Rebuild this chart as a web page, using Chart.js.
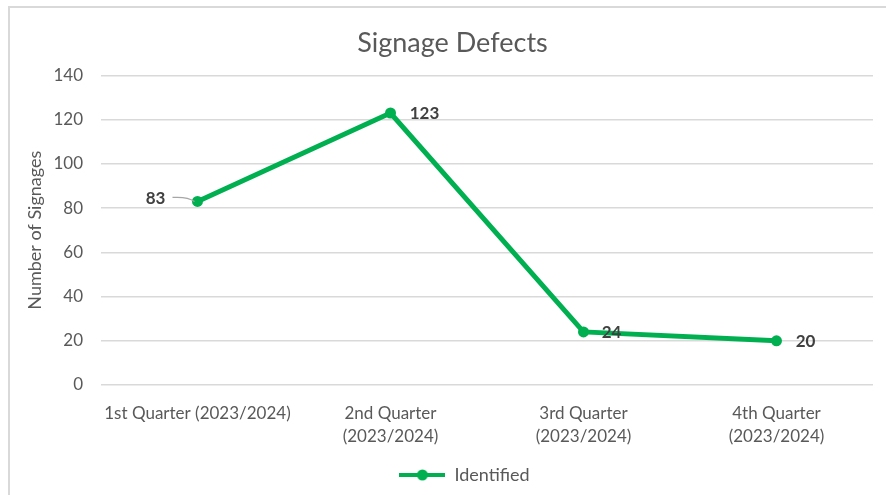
<!DOCTYPE html>
<html>
<head>
<meta charset="utf-8">
<script src="https://cdn.jsdelivr.net/npm/chart.js@4/dist/chart.umd.min.js"></script>
<style>
  html, body { margin: 0; padding: 0; background: #fff; overflow: hidden; }
  #wrap { position: relative; width: 886px; height: 495px; }
  #frame { position: absolute; left: 8px; top: 6px; width: 900px; height: 520px; border: 2px solid #d9d9d9; box-sizing: border-box; pointer-events: none; }
  canvas { position: absolute; left: 0; top: 0; }
</style>
</head>
<body>
<div id="wrap">
  <canvas id="chart" width="886" height="495"></canvas>
  <div id="frame"></div>
</div>
<script>
// ===== DATA =====
const categories = [
    '1st Quarter (2023/2024)',
    ['2nd Quarter', '(2023/2024)'],
    ['3rd Quarter', '(2023/2024)'],
    ['4th Quarter', '(2023/2024)']
];
const identified = [83, 123, 24, 20];
const yTicks = { min: 0, max: 140, step: 20 };

const GREEN = '#00b050';
const TEXT = '#595959';
const FONT = 'Lato, "Open Sans", sans-serif';

// Legend marker: short line with a dot in the middle
function legendMarker() {
    const c = document.createElement('canvas');
    c.width = 46; c.height = 14;
    const g = c.getContext('2d');
    g.strokeStyle = GREEN;
    g.lineWidth = 4;
    g.beginPath();
    g.moveTo(0, 7);
    g.lineTo(46, 7);
    g.stroke();
    g.fillStyle = GREEN;
    g.beginPath();
    g.arc(23, 7, 5.5, 0, Math.PI * 2);
    g.fill();
    return c;
}

// Data labels drawn next to each point
const labelOffsets = [[-42, -3], [34, 1], [28, 1], [29, 1]];
const dataLabels = {
    id: 'dataLabels',
    afterDatasetsDraw(chart) {
        const ctx = chart.ctx;
        const meta = chart.getDatasetMeta(0);
        ctx.save();
        ctx.font = 'bold 17px ' + FONT;
        ctx.fillStyle = '#404040';
        ctx.textAlign = 'center';
        ctx.textBaseline = 'middle';
        meta.data.forEach((pt, i) => {
            const [dx, dy] = labelOffsets[i];
            ctx.fillText(String(identified[i]), pt.x + dx, pt.y + dy);
        });
        // leader line for the first label
        const p0 = meta.data[0];
        ctx.strokeStyle = '#a6a6a6';
        ctx.lineWidth = 1.2;
        ctx.beginPath();
        ctx.moveTo(p0.x - 25, p0.y - 4);
        ctx.quadraticCurveTo(p0.x - 10, p0.y - 5, p0.x - 3, p0.y);
        ctx.stroke();
        ctx.restore();
    }
};

// Excel places the title and legend a bit right of centre
const boxShift = {
    id: 'boxShift',
    afterLayout(chart) {
        chart.legend.left += 24;
        chart.legend.right += 24;
        chart.titleBlock.left += 12;
        chart.titleBlock.right += 12;
    }
};

new Chart(document.getElementById('chart'), {
    type: 'line',
    data: {
        labels: categories,
        datasets: [{
            label: 'Identified',
            data: identified,
            borderColor: GREEN,
            backgroundColor: GREEN,
            borderWidth: 5,
            pointRadius: 5.5,
            pointBackgroundColor: GREEN,
            pointBorderWidth: 0,
            tension: 0,
            pointStyle: 'circle'
        }]
    },
    options: {
        responsive: false,
        animation: false,
        layout: { padding: { left: 8, right: 13, top: 6, bottom: 1 } },
        plugins: {
            title: {
                display: true,
                text: 'Signage Defects',
                color: TEXT,
                font: { family: FONT, size: 27, weight: 'normal' },
                padding: { top: 21, bottom: 16 }
            },
            legend: {
                position: 'bottom',
                labels: {
                    usePointStyle: true,
                    pointStyle: legendMarker(),
                    pointStyleWidth: 46,
                    color: TEXT,
                    font: { family: FONT, size: 18 },
                    padding: 9
                }
            },
            tooltip: { enabled: false }
        },
        scales: {
            x: {
                offset: true,
                grid: { display: false },
                border: { display: false },
                afterFit(scale) { scale.height = 72; },
                ticks: {
                    color: TEXT,
                    font: { family: FONT, size: 17, lineHeight: 1.35 },
                    maxRotation: 0,
                    autoSkip: false,
                    padding: 9
                }
            },
            y: {
                min: yTicks.min,
                max: yTicks.max,
                afterFit(scale) { scale.width = 93; },
                grid: { color: '#d9d9d9', lineWidth: 1.5, drawTicks: false },
                border: { display: false },
                ticks: {
                    stepSize: yTicks.step,
                    color: TEXT,
                    font: { family: FONT, size: 17 },
                    padding: 18
                },
                title: {
                    display: true,
                    text: 'Number of Signages',
                    color: TEXT,
                    font: { family: FONT, size: 18 },
                    padding: { top: 16, bottom: 0 }
                }
            }
        }
    },
    plugins: [dataLabels, boxShift]
});
</script>
</body>
</html>
